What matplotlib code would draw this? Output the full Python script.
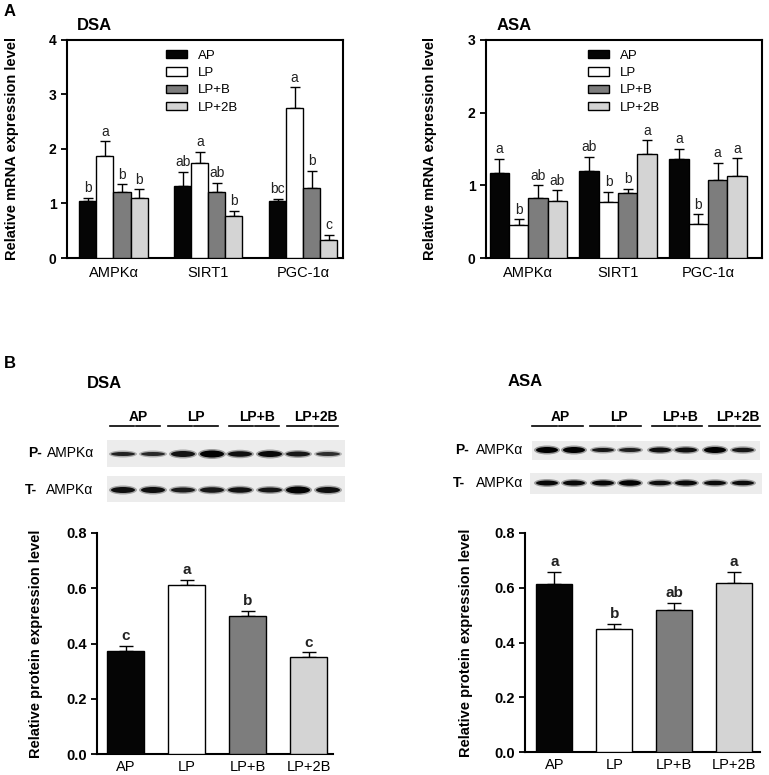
import matplotlib.pyplot as plt
import matplotlib.patches as patches
import numpy as np

plt.rcParams['font.family'] = ['Liberation Sans', 'DejaVu Sans']

# ---- data ----
groups = ['AP', 'LP', 'LP+B', 'LP+2B']
genes = ['AMPK\u03b1', 'SIRT1', 'PGC-1\u03b1']
bar_colors = ['#050505', '#ffffff', '#7d7d7d', '#d4d4d4']

# mRNA, rows = group, cols = gene
dsa_mrna = [[1.05, 1.33, 1.04],
            [1.87, 1.75, 2.75],
            [1.21, 1.21, 1.29],
            [1.10, 0.77, 0.33]]
dsa_mrna_err = [[0.05, 0.25, 0.04],
                [0.27, 0.20, 0.38],
                [0.14, 0.17, 0.31],
                [0.16, 0.09, 0.09]]
dsa_mrna_sig = [['b', 'ab', 'bc'],
                ['a', 'a', 'a'],
                ['b', 'ab', 'b'],
                ['b', 'b', 'c']]

asa_mrna = [[1.17, 1.20, 1.36],
            [0.46, 0.77, 0.47],
            [0.83, 0.89, 1.08],
            [0.78, 1.43, 1.13]]
asa_mrna_err = [[0.19, 0.19, 0.14],
                [0.07, 0.14, 0.13],
                [0.17, 0.06, 0.23],
                [0.15, 0.19, 0.24]]
asa_mrna_sig = [['a', 'ab', 'a'],
                ['b', 'b', 'b'],
                ['ab', 'b', 'a'],
                ['ab', 'a', 'a']]

dsa_prot = [0.372, 0.61, 0.50, 0.350]
dsa_prot_err = [0.018, 0.02, 0.018, 0.018]
dsa_prot_sig = ['c', 'a', 'b', 'c']

asa_prot = [0.612, 0.448, 0.518, 0.618]
asa_prot_err = [0.046, 0.021, 0.028, 0.039]
asa_prot_sig = ['a', 'b', 'ab', 'a']

# western blot band darkness / thickness per lane (8 lanes)
dsa_p_dark = [0.78, 0.74, 0.88, 0.98, 0.9, 0.95, 0.85, 0.7]
dsa_p_thick = [4.0, 4.0, 6.0, 7.0, 5.5, 6.0, 5.0, 4.0]
dsa_t_dark = [0.9, 0.9, 0.82, 0.85, 0.88, 0.85, 0.98, 0.9]
dsa_t_thick = [6.0, 6.0, 5.0, 5.5, 5.5, 5.0, 7.0, 6.0]
asa_p_dark = [1.0, 1.0, 0.85, 0.8, 0.9, 0.9, 1.0, 0.85]
asa_p_thick = [6.0, 6.0, 4.0, 4.0, 5.0, 5.0, 6.0, 4.5]
asa_t_dark = [0.95, 0.95, 0.95, 0.98, 0.9, 0.95, 0.92, 0.92]
asa_t_thick = [5.0, 5.0, 5.0, 5.5, 4.5, 5.0, 4.5, 4.5]

fig = plt.figure(figsize=(7.69, 7.75), dpi=100)
W, H = 769, 775


def ax_px(left, top, right, bottom):
    return fig.add_axes([left / W, 1 - bottom / H, (right - left) / W, (bottom - top) / H])


def mrna_panel(ax, vals, errs, sigs, ymax, xlim, bw, leg_x, lab_x):
    x = np.arange(len(genes))
    offs = (np.arange(4) - 1.5) * bw
    for i in range(4):
        ax.bar(x + offs[i], vals[i], bw, color=bar_colors[i], edgecolor='black',
               linewidth=1.0, label=groups[i], zorder=3)
        ax.errorbar(x + offs[i], vals[i], yerr=[np.zeros(3), errs[i]], fmt='none',
                    ecolor='black', elinewidth=1.0, capsize=3.5, capthick=1.0, zorder=2)
        for j in range(3):
            ax.annotate(sigs[i][j], (x[j] + offs[i], vals[i][j] + errs[i][j]),
                        xytext=(0, 2), textcoords='offset points', ha='center',
                        va='bottom', fontsize=10, color='#222222')
    ax.set_ylim(0, ymax)
    ax.set_xlim(*xlim)
    ax.set_yticks(range(ymax + 1))
    ax.set_xticks(x)
    ax.set_xticklabels(genes, fontsize=10.5)
    ax.tick_params(axis='x', length=0, pad=6)
    ax.tick_params(axis='y', direction='out', length=4, width=1.3, labelsize=10)
    for t in ax.get_yticklabels():
        t.set_fontweight('bold')
    for s in ax.spines.values():
        s.set_linewidth(1.5)
    ax.set_ylabel('Relative mRNA expression level', fontsize=10.5, fontweight='bold')
    ax.yaxis.set_label_coords(lab_x, 0.5)
    ax.legend(loc='upper left', bbox_to_anchor=(leg_x, 0.955), frameon=False,
              fontsize=9.5, handlelength=1.6, handleheight=0.6, handletextpad=0.8,
              labelspacing=0.4, borderpad=0, borderaxespad=0)


def prot_panel(ax, vals, errs, sigs, xlim, lab_x):
    x = np.arange(4)
    ax.bar(x, vals, 0.6, color=bar_colors, edgecolor='black', linewidth=1.0, zorder=3)
    ax.errorbar(x, vals, yerr=[np.zeros(4), errs], fmt='none', ecolor='black',
                elinewidth=1.0, capsize=5, capthick=1.0, zorder=2)
    for i in range(4):
        ax.annotate(sigs[i], (x[i], vals[i] + errs[i]), xytext=(0, 2),
                    textcoords='offset points', ha='center', va='bottom',
                    fontsize=11, fontweight='bold', color='#222222')
    ax.set_ylim(0, 0.8)
    ax.set_xlim(*xlim)
    ax.set_yticks([0, 0.2, 0.4, 0.6, 0.8])
    ax.set_yticklabels(['0.0', '0.2', '0.4', '0.6', '0.8'])
    ax.set_xticks(x)
    ax.set_xticklabels(groups, fontsize=10.5)
    ax.tick_params(axis='x', length=0, pad=4)
    ax.tick_params(axis='y', direction='out', length=4, width=1.3, labelsize=10.5)
    for t in ax.get_yticklabels():
        t.set_fontweight('bold')
    ax.spines['top'].set_visible(False)
    ax.spines['right'].set_visible(False)
    ax.spines['left'].set_linewidth(1.5)
    ax.spines['bottom'].set_linewidth(1.5)
    ax.set_ylabel('Relative protein expression level', fontsize=10.5, fontweight='bold')
    ax.yaxis.set_label_coords(lab_x, 0.5)


# Panel A
ax1 = ax_px(67, 40, 343, 258)
mrna_panel(ax1, dsa_mrna, dsa_mrna_err, dsa_mrna_sig, 4, (-0.49, 2.42), 0.18, 0.36, -0.175)
ax2 = ax_px(486, 40, 762, 258)
mrna_panel(ax2, asa_mrna, asa_mrna_err, asa_mrna_sig, 3, (-0.47, 2.6), 0.215, 0.37, -0.178)

# Panel B bar charts
ax3 = ax_px(97, 533, 333, 754)
prot_panel(ax3, dsa_prot, dsa_prot_err, dsa_prot_sig, (-0.47, 3.4), -0.229)
ax4 = ax_px(525, 533, 760, 752)
prot_panel(ax4, asa_prot, asa_prot_err, asa_prot_sig, (-0.49, 3.43), -0.221)

# overlay in pixel coordinates for labels and blots
ov = fig.add_axes([0, 0, 1, 1], zorder=-1)
ov.set_xlim(0, W)
ov.set_ylim(H, 0)
ov.axis('off')

ov.text(4, 12, 'A', fontsize=12, fontweight='bold', va='center')
ov.text(77, 26, 'DSA', fontsize=12, fontweight='bold', va='center')
ov.text(497, 25, 'ASA', fontsize=12, fontweight='bold', va='center')
ov.text(4, 363, 'B', fontsize=12, fontweight='bold', va='center')
ov.text(87, 383, 'DSA', fontsize=12, fontweight='bold', va='center')
ov.text(508, 382, 'ASA', fontsize=12, fontweight='bold', va='center')


def blot(lane_x, y, box, dark, thick, bw):
    x0, y0, x1, y1 = box
    ov.add_patch(patches.Rectangle((x0, y0), x1 - x0, y1 - y0, facecolor='#ececec',
                                   edgecolor='none'))
    for xc, d, t in zip(lane_x, dark, thick):
        g = 1 - d
        ov.add_patch(patches.Ellipse((xc, y), bw + 4, t + 3, facecolor=(g, g, g),
                                     edgecolor='none', alpha=0.35))
        ov.add_patch(patches.Ellipse((xc, y), bw, t, facecolor=(g * 0.6, g * 0.6, g * 0.6),
                                     edgecolor='none'))


def lane_labels(spans, y_text, y_line):
    for lab, (a, b) in zip(groups, spans):
        ov.text((a + b) / 2 + 3, y_text, lab, fontsize=10, fontweight='bold',
                ha='center', va='center')
        mid = (a + b) / 2
        ov.plot([a, mid - 1], [y_line, y_line], color='black', lw=1.2)
        ov.plot([mid + 1, b], [y_line, y_line], color='black', lw=1.2)


# DSA blot
lane_labels([(110, 160), (168, 218), (229, 279), (287, 338)], 417, 426)
blot([123, 153, 183, 212, 240, 270, 298, 328], 454, (107, 440, 345, 467),
     dsa_p_dark, dsa_p_thick, 24)
blot([123, 153, 183, 212, 240, 270, 298, 328], 490, (107, 476, 345, 502),
     dsa_t_dark, dsa_t_thick, 24)
ov.text(28, 453, 'P-', fontsize=10, fontweight='bold', va='center')
ov.text(47, 453, 'AMPK\u03b1', fontsize=10, va='center')
ov.text(25, 490, 'T-', fontsize=10, fontweight='bold', va='center')
ov.text(46, 490, 'AMPK\u03b1', fontsize=10, va='center')

# ASA blot
lane_labels([(532, 583), (590, 641), (652, 702), (709, 760)], 417, 426)
blot([547, 574, 603, 630, 660, 686, 715, 743], 450, (532, 441, 760, 460),
     asa_p_dark, asa_p_thick, 22)
blot([547, 574, 603, 630, 660, 686, 715, 743], 483, (530, 473, 762, 494),
     asa_t_dark, asa_t_thick, 22)
ov.text(455, 450, 'P-', fontsize=10, fontweight='bold', va='center')
ov.text(476, 450, 'AMPK\u03b1', fontsize=10, va='center')
ov.text(453, 483, 'T-', fontsize=10, fontweight='bold', va='center')
ov.text(476, 483, 'AMPK\u03b1', fontsize=10, va='center')

fig.savefig('out.png', dpi=100)
